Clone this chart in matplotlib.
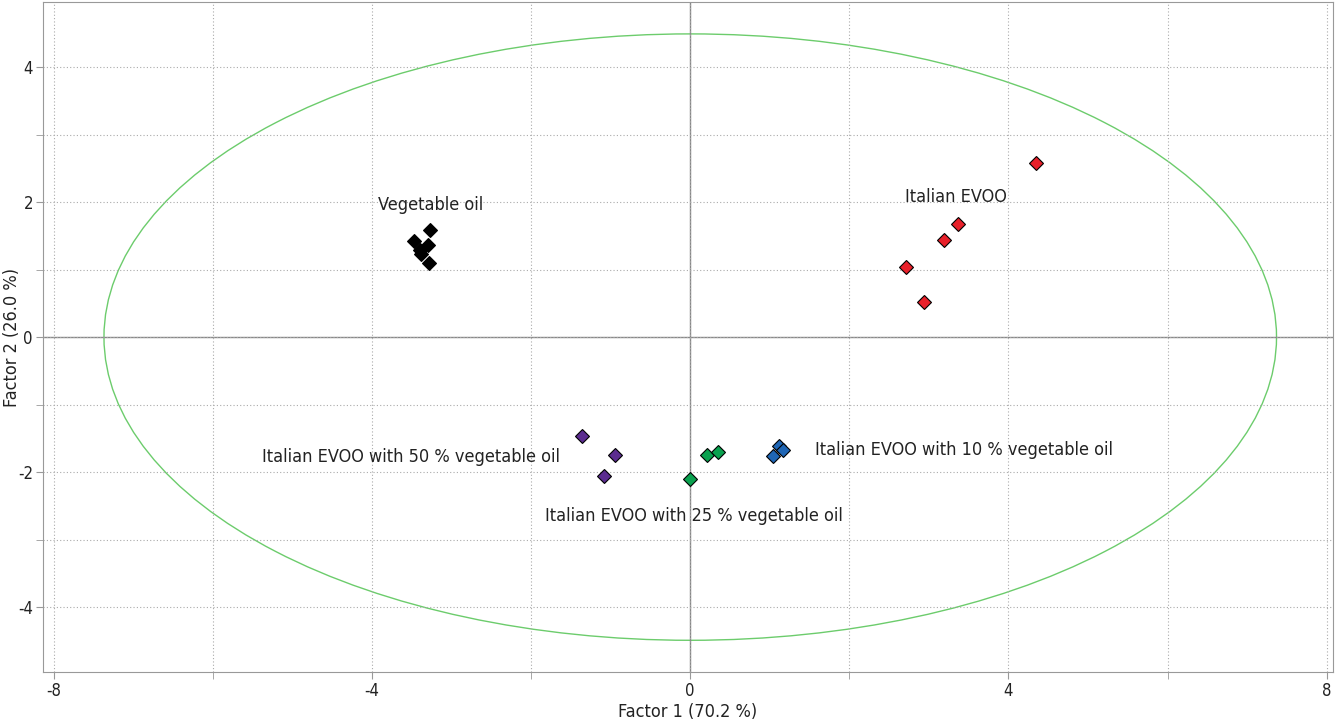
import matplotlib.pyplot as plt
from matplotlib.patches import Ellipse
from matplotlib import font_manager

# scores (Factor 1, Factor 2)
veg_x = [-3.27, -3.47, -3.30, -3.40, -3.38, -3.28]
veg_y = [1.59, 1.42, 1.36, 1.29, 1.23, 1.10]

evoo_x = [4.35, 3.37, 3.19, 2.71, 2.94]
evoo_y = [2.58, 1.67, 1.44, 1.04, 0.52]

mix50_x = [-1.36, -0.94, -1.08]
mix50_y = [-1.47, -1.75, -2.06]

mix25_x = [0.00, 0.21, 0.35]
mix25_y = [-2.10, -1.75, -1.70]

mix10_x = [1.04, 1.12, 1.17]
mix10_y = [-1.76, -1.61, -1.67]

labels = ["Vegetable oil", "Italian EVOO", "Italian EVOO with 50 % vegetable oil",
          "Italian EVOO with 25 % vegetable oil", "Italian EVOO with 10 % vegetable oil"]
label_x = [-3.92, 2.70, -5.38, -1.83, 1.57]
label_y = [1.96, 2.07, -1.78, -2.65, -1.67]

# a condensed face if one is around, otherwise Liberation Sans a bit smaller
fp = font_manager.FontProperties(family='DejaVu Sans', stretch='condensed')
path = font_manager.findfont(fp, fallback_to_default=False)
if 'Condensed' in path:
    plt.rcParams['font.family'] = ['DejaVu Sans']
    plt.rcParams['font.stretch'] = 'condensed'
    fs_lab, fs_tick = 13, 12
else:
    plt.rcParams['font.family'] = ['Liberation Sans', 'DejaVu Sans']
    fs_lab, fs_tick = 12, 11.5
plt.rcParams['axes.unicode_minus'] = False

fig = plt.figure(figsize=(13.35, 7.23), dpi=100)
ax = fig.add_axes([0.032, 0.0705, 0.9665, 0.9265])

# hotelling ellipse
ax.add_patch(Ellipse((0, 0), 2 * 7.37, 2 * 4.49, fill=False, ec='#6ccc6c', lw=1))

ax.axhline(0, color='#888888', lw=1, zorder=1)
ax.axvline(0, color='#888888', lw=1, zorder=1)

mk = dict(marker='D', ms=7, mec='black', mew=0.8, ls='none', zorder=3)
ax.plot(veg_x, veg_y, color='black', **mk)
ax.plot(evoo_x, evoo_y, color='#e8202a', **mk)
ax.plot(mix50_x, mix50_y, color='#5b2c8f', **mk)
ax.plot(mix25_x, mix25_y, color='#0aa14f', **mk)
ax.plot(mix10_x, mix10_y, color='#1f66b5', **mk)

for t, x, y in zip(labels, label_x, label_y):
    ax.text(x, y, t, fontsize=fs_lab, color='#222222', va='center', ha='left')

ax.set_xlim(-8.14, 8.08)
ax.set_ylim(-4.96, 4.96)
ax.set_xticks([-8, -4, 0, 4, 8])
ax.set_yticks([-4, -2, 0, 2, 4])
ax.set_xticks([-6, -2, 2, 6], minor=True)
ax.set_yticks([-3, -1, 1, 3], minor=True)
ax.grid(True, which='both', color='#aaaaaa', ls=(0, (1, 2)), lw=0.8)
ax.tick_params(which='both', direction='out', length=5, color='#999999',
               labelsize=fs_tick, labelcolor='#222222', pad=2)
for s in ax.spines.values():
    s.set_color('#999999')

ax.set_xlabel('Factor 1 (70.2 %)', fontsize=fs_lab, color='#222222', labelpad=2)
ax.set_ylabel('Factor 2 (26.0 %)', fontsize=fs_lab, color='#222222')
ax.yaxis.set_label_coords(-0.0165, 0.5)

fig.savefig('out.png', dpi=100)
